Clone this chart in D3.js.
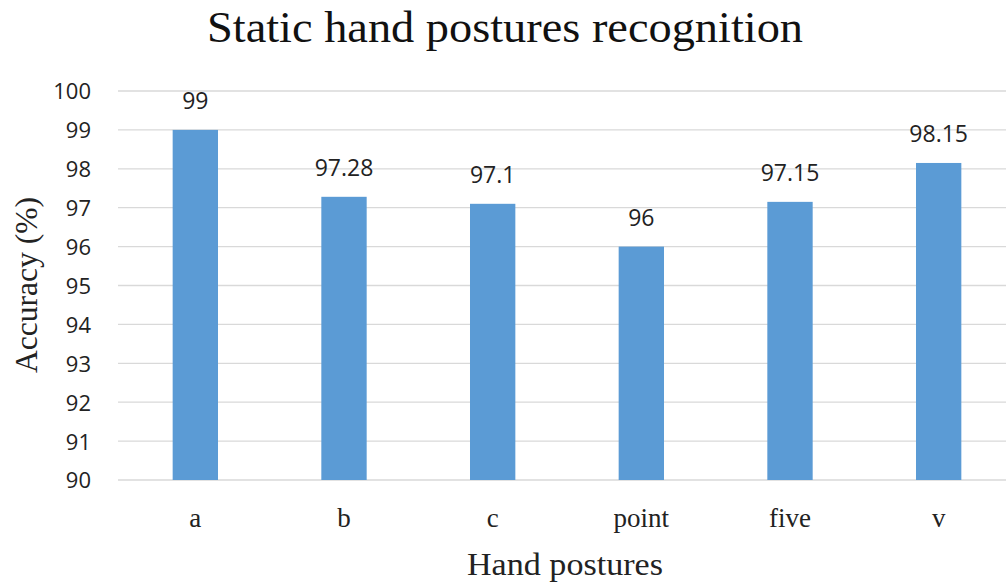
<!DOCTYPE html>
<html><head><meta charset="utf-8">
<script src="https://cdn.jsdelivr.net/npm/d3@7"></script>
<style>body{margin:0;background:#fff}svg{display:block}</style>
</head><body>
<svg id="c" width="1006" height="584"></svg>
<script>
const categories = ["a","b","c","point","five","v"];
const values = [99, 97.28, 97.1, 96, 97.15, 98.15];
const yTicks = [90,91,92,93,94,95,96,97,98,99,100];
const title = "Static hand postures recognition";
const xTitle = "Hand postures";
const yTitle = "Accuracy (%)";

const svg = d3.select("#c");
const m = {left:121, right:-7, top:91, bottom:104};
const W = 1006, H = 584;
const x = d3.scaleBand().domain(categories).range([m.left, W - m.right]).paddingInner(0.695).paddingOuter(0.3475);
const y = d3.scaleLinear().domain([90,100]).range([H - m.bottom, m.top]);

const serif = "'Liberation Serif','DejaVu Serif',serif";
const sans = "'Open Sans','Noto Sans',sans-serif";

// gridlines
svg.append("g").selectAll("line").data(yTicks).join("line")
  .attr("x1", 118).attr("x2", W)
  .attr("y1", d=>y(d)).attr("y2", d=>y(d))
  .attr("stroke", "#d9d9d9").attr("stroke-width", 1.3);

// y axis labels
const yAxis = d3.axisLeft(y).tickValues(yTicks).tickSize(0).tickPadding(0);
const gy = svg.append("g").attr("transform", "translate(91,0)").call(yAxis);
gy.select(".domain").remove();
gy.selectAll("text").attr("font-family", sans).attr("font-size", 22).attr("fill", "#222").attr("dy", "0.36em");

// bars
svg.append("g").selectAll("rect").data(values).join("rect")
  .attr("x", (d,i)=>x(categories[i])).attr("width", x.bandwidth())
  .attr("y", d=>y(d)).attr("height", d=>y(90)-y(d))
  .attr("fill", "#5b9bd5");

// data labels
svg.append("g").selectAll("text").data(values).join("text")
  .attr("x", (d,i)=>x(categories[i]) + x.bandwidth()/2)
  .attr("y", d=>y(d) - 21)
  .attr("text-anchor", "middle")
  .attr("font-family", sans).attr("font-size", 23).attr("fill", "#222")
  .text(d=>String(d));

// x axis labels
const xAxis = d3.axisBottom(x).tickSize(0).tickPadding(0);
const gx = svg.append("g").attr("transform", `translate(0,${y(90)})`).call(xAxis);
gx.select(".domain").remove();
gx.selectAll("text").attr("font-family", serif).attr("font-size", 27).attr("fill", "#222").attr("dy", null).attr("y", 47);

// titles
svg.append("text").attr("x", 505).attr("y", 42).attr("text-anchor","middle")
  .attr("font-family", serif).attr("font-size", 44).attr("fill", "#111")
  .attr("textLength", 596).attr("lengthAdjust", "spacingAndGlyphs").text(title);
svg.append("text").attr("x", 565).attr("y", 575).attr("text-anchor","middle")
  .attr("font-family", serif).attr("font-size", 32).attr("fill", "#222")
  .attr("textLength", 196).attr("lengthAdjust", "spacingAndGlyphs").text(xTitle);
svg.append("text").attr("transform", "translate(37,285) rotate(-90)").attr("text-anchor","middle")
  .attr("font-family", serif).attr("font-size", 31).attr("fill", "#222")
  .attr("textLength", 176).attr("lengthAdjust", "spacingAndGlyphs").text(yTitle);
</script>
</body></html>
